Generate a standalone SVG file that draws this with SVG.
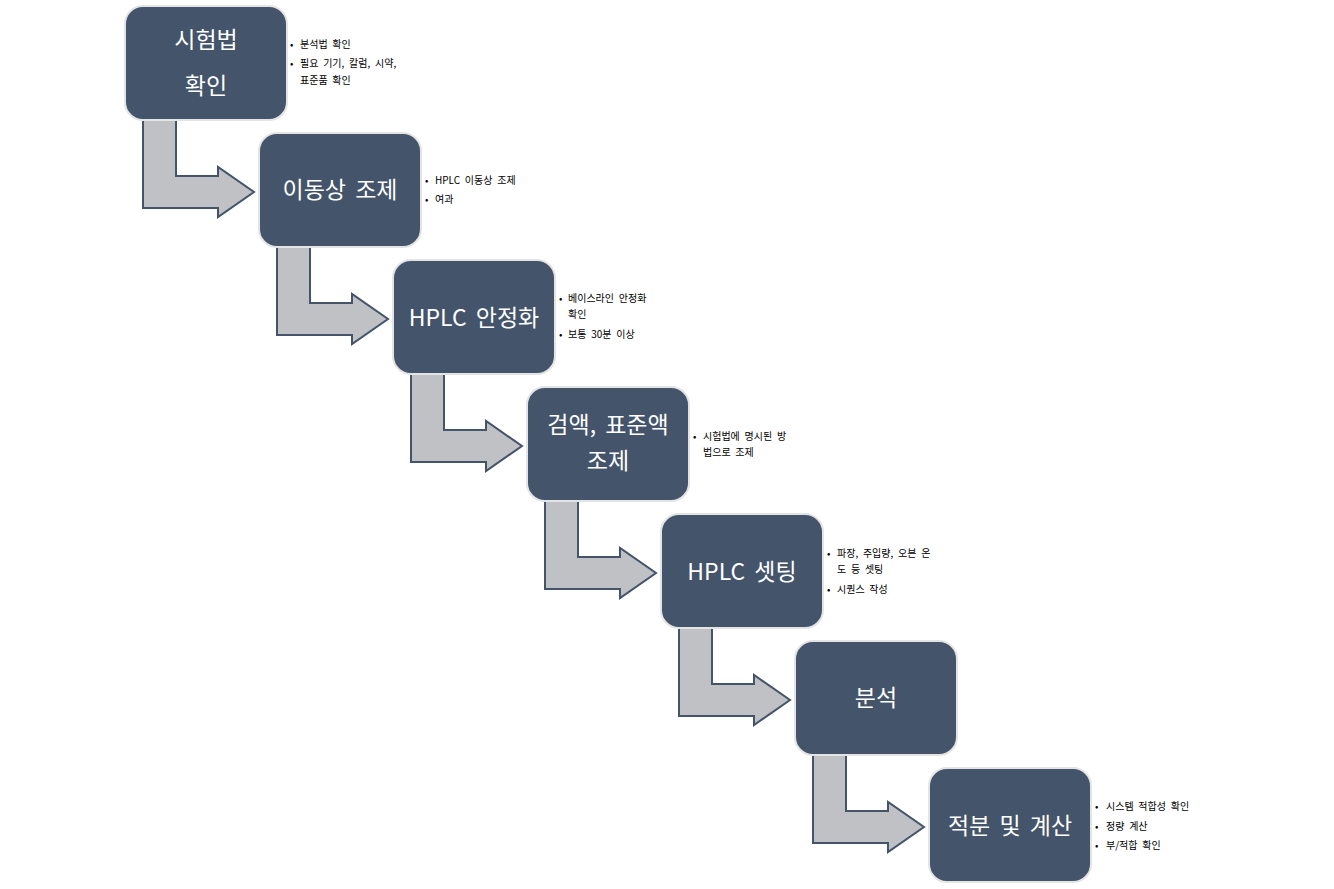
<svg xmlns="http://www.w3.org/2000/svg" width="1334" height="889" viewBox="0 0 1334 889">
<style>
.box{fill:#44546A;stroke:#E4E4E4;stroke-width:2}
.arr{fill:#BFC1C5;stroke:#44546A;stroke-width:2;stroke-linejoin:miter}
.t{font-family:"Malgun Gothic","Noto Sans CJK KR",sans-serif;font-size:23px;fill:#FFFFFF;text-anchor:middle;word-spacing:4px}
.s{font-family:"Malgun Gothic","Noto Sans CJK KR",sans-serif;font-size:10px;fill:#000000;word-spacing:2.5px}
</style>
<rect width="1334" height="889" fill="#FFFFFF"/>
<g id="connectors">
<path class="arr" d="M143,120 L176,120 L176,176 L218,176 L218,167 L254,192 L218,217 L218,208 L143,208 Z"/>
<path class="arr" transform="translate(134,127)" d="M143,120 L176,120 L176,176 L218,176 L218,167 L254,192 L218,217 L218,208 L143,208 Z"/>
<path class="arr" transform="translate(268,254)" d="M143,120 L176,120 L176,176 L218,176 L218,167 L254,192 L218,217 L218,208 L143,208 Z"/>
<path class="arr" transform="translate(402,381)" d="M143,120 L176,120 L176,176 L218,176 L218,167 L254,192 L218,217 L218,208 L143,208 Z"/>
<path class="arr" transform="translate(536,508)" d="M143,120 L176,120 L176,176 L218,176 L218,167 L254,192 L218,217 L218,208 L143,208 Z"/>
<path class="arr" transform="translate(670,635)" d="M143,120 L176,120 L176,176 L218,176 L218,167 L254,192 L218,217 L218,208 L143,208 Z"/>
</g>
<g id="node1">
<rect class="box" x="125" y="6" width="162" height="114" rx="18"/>
<text class="t" x="206" y="48">시험법</text>
<text class="t" x="206" y="94">확인</text>
<text class="s" x="290" y="48">•</text>
<text class="s" x="300" y="48">분석법 확인</text>
<text class="s" x="290" y="67">•</text>
<text class="s" x="300" y="67">필요 기기, 칼럼, 시약,</text>
<text class="s" x="300" y="84">표준품 확인</text>
</g>
<g id="node2">
<rect class="box" x="259" y="133" width="162" height="114" rx="18"/>
<text class="t" x="340" y="198">이동상 조제</text>
<text class="s" x="425" y="184">•</text>
<text class="s" x="435" y="184">HPLC 이동상 조제</text>
<text class="s" x="425" y="203">•</text>
<text class="s" x="435" y="203">여과</text>
</g>
<g id="node3">
<rect class="box" x="393" y="260" width="162" height="114" rx="18"/>
<text class="t" x="474" y="326">HPLC 안정화</text>
<text class="s" x="559" y="302">•</text>
<text class="s" x="568" y="302">베이스라인 안정화</text>
<text class="s" x="568" y="318">확인</text>
<text class="s" x="559" y="338">•</text>
<text class="s" x="568" y="338">보통 30분 이상</text>
</g>
<g id="node4">
<rect class="box" x="527" y="387" width="162" height="114" rx="18"/>
<text class="t" x="608" y="433">검액, 표준액</text>
<text class="t" x="608" y="469">조제</text>
<text class="s" x="693" y="440">•</text>
<text class="s" x="703" y="440">시험법에 명시된 방</text>
<text class="s" x="703" y="456">법으로 조제</text>
</g>
<g id="node5">
<rect class="box" x="661" y="514" width="162" height="114" rx="18"/>
<text class="t" x="742" y="580">HPLC 셋팅</text>
<text class="s" x="827" y="557">•</text>
<text class="s" x="837" y="557">파장, 주입량, 오븐 온</text>
<text class="s" x="837" y="573">도 등 셋팅</text>
<text class="s" x="827" y="593">•</text>
<text class="s" x="837" y="593">시퀀스 작성</text>
</g>
<g id="node6">
<rect class="box" x="795" y="641" width="162" height="114" rx="18"/>
<text class="t" x="876" y="706">분석</text>
</g>
<g id="node7">
<rect class="box" x="929" y="768" width="162" height="114" rx="18"/>
<text class="t" x="1010" y="834">적분 및 계산</text>
<text class="s" x="1095" y="810">•</text>
<text class="s" x="1106" y="810">시스템 적합성 확인</text>
<text class="s" x="1095" y="830">•</text>
<text class="s" x="1106" y="830">정량 계산</text>
<text class="s" x="1095" y="849">•</text>
<text class="s" x="1106" y="849">부/적합 확인</text>
</g>
</svg>
